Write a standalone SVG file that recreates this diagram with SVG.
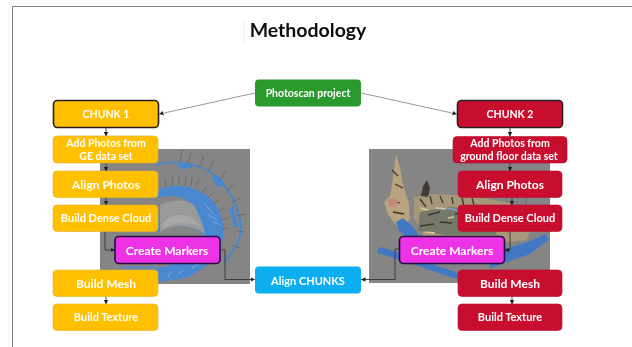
<svg xmlns="http://www.w3.org/2000/svg" width="632" height="347" viewBox="0 0 632 347">
<defs>
<filter id="soft" x="-5%" y="-5%" width="110%" height="110%"><feGaussianBlur stdDeviation="0.4"/></filter>
<filter id="softer" x="-5%" y="-5%" width="110%" height="110%"><feGaussianBlur stdDeviation="0.7"/></filter>
<marker id="arr" markerWidth="5" markerHeight="5" refX="4" refY="2.500" orient="auto" markerUnits="userSpaceOnUse"><path d="M0,0.300L4.500,2.500L0,4.700z" fill="#222"/></marker>
</defs>
<style>
text{font-family:Lato,"Open Sans","Liberation Sans",sans-serif;font-weight:700;fill:#fff;text-anchor:middle}
.o{fill:#ffc000;stroke:#e8b020;stroke-width:.6}
.r{fill:#c8102e;stroke:#b81030;stroke-width:.6}
.b{stroke:#2a1a20;stroke-width:1.600}
.c{fill:none;stroke:#333;stroke-width:.9}
.g{fill:none;stroke:#999;stroke-width:1}
.t{font-size:10.500px}
.u{font-size:11px}
.v{font-size:12px}
.w{font-size:11px}
.k{fill:none;stroke:#5b6066;stroke-width:.7}
.bl{fill:#4a88d0}
</style>
<rect width="632" height="347" fill="#fff"/>
<path d="M12.500,347V6.500H632" fill="none" stroke="#808080" stroke-width="1"/>
<path d="M243.800,20V43" stroke="#e4e4e4" stroke-width=".7"/>
<g id="scene-left" filter="url(#softer)">
<rect x="100" y="149" width="150" height="135" fill="#858585"/>
<path d="M158,190C175,182 196,186 210,198C222,210 226,226 222,242C216,258 204,270 186,278L158,282V268C178,264 198,252 205,236C192,224 176,224 158,232V214C170,210 180,206 192,204C182,196 170,194 158,198Z" class="bl"/>
<path d="M160,205C172,199 186,199 194,205C199,214 203,224 205,234C190,224 174,224 160,232Z" fill="#9a9a9a"/>
<path d="M163,222C176,212 190,212 200,226C188,222 174,222 163,228Z" fill="#a8a8a8"/>
<path d="M155,165C175,160 196,163 210,172C228,186 240,206 241,228C241,240 234,252 224,262" fill="none" stroke="#4286cc" stroke-width="1.600"/>
<path d="M176,166l9,-3.500l9,3.500l-9,3.500zM211,178l6,-3l8,8l-6,5zM229,208l4,-2l6,20l-5,1z" class="bl"/>
<path d="M182,150l-2,12M191,153l-3,10M204,156l-5,11M214,160l-5,10M226,171l-7,9M235,184l-8,6M241,198l-9,4M246,214l-10,2M245,232l-9,-1M240,248l-8,-3M165,178l1,9M172,177l1,9M179,176l0,9M186,176l-1,9M192,177l-1,9M199,179l-3,8M207,186l-5,7M214,192l-6,6M220,199l-6,5M225,208l-7,3M228,218l-7,2M229,228l-7,1" class="k"/>
<path d="M205,204l10,12M213,222l8,3M208,214l9,6M192,268l8,-5M178,274l6,-4M168,277l3,-6" stroke="#7fa6d6" stroke-width="1" fill="none"/>
<path d="M120,266h38v15h-24z" fill="#5f8ac0" opacity=".7"/>
</g>
<g id="scene-right" filter="url(#softer)">
<rect x="369" y="149" width="181" height="134" fill="#858585"/>
<path d="M396,154l4,14l3,16l6,20l1,14l-6,12l-9,-6l-7,-10l-4,-12l6,-6l3,-18z" fill="#b9a47f"/>
<path d="M414,197l20,-3l40,2l30,6l34,8l-2,10l-10,20l-60,6l-40,-6l-12,-22z" fill="#a8987a"/>
<path d="M420,212l30,-5l30,2l20,6l-4,20h-50l-28,-4z" fill="#74796a"/>
<path d="M392,170l6,6M395,184l8,4M390,200l10,3M393,212l11,2M420,199l6,8M430,196l2,8M440,196l3,7M452,197l1,7M462,198l2,8M472,198l2,7M428,215l12,-3M420,226l14,-2M440,222l12,1M455,214l14,-2M506,224l8,6M520,218l-2,10M528,216l-2,8" stroke="#3a352c" stroke-width="1.300" fill="none"/>
<path d="M420,208l8,2M436,208l10,1M448,218l6,-1M425,232l10,1M510,228l12,-2" stroke="#d8c8a0" stroke-width="1.400" fill="none"/>
<path d="M445,208l12,2M462,214l8,-2" stroke="#7fa6d6" stroke-width="1.400" fill="none"/>
<path d="M421,196l2,-10l4,-6l3,8l-2,9z" fill="#3f3a36"/>
<path d="M388,200l5,-3l5,4l-2,6l-6,-1z" fill="#c28a7a"/>
<path d="M396,222l7,-4l9,8l8,11l-8,4l-13,-10z" fill="#3f78c4"/>
<path d="M377,253l30,9l40,14l14,4v-6l-40,-14l-40,-13l-3,2z" fill="#3f78c4"/>
<path d="M490,268l40,-14l18,-14l-2,-6l-18,8l-20,6l-18,4z" fill="#3f78c4"/>
<path d="M478,270h30v13h-30z" fill="#3f78c4"/>
<path d="M491,147v6M526,197v8" class="k"/>
</g>
<g id="connectors" filter="url(#soft)">
<path class="g" d="M255,93L159.500,114" marker-end="url(#arr)"/>
<path class="g" d="M361,93L456.500,114" marker-end="url(#arr)"/>
<path class="c" d="M106,127V136" marker-end="url(#arr)"/>
<path class="c" d="M106,163V171" marker-end="url(#arr)"/>
<path class="c" d="M106,197V205" marker-end="url(#arr)"/>
<path class="c" d="M106,296V304" marker-end="url(#arr)"/>
<path class="c" d="M510,127V136" marker-end="url(#arr)"/>
<path class="c" d="M510,163V171" marker-end="url(#arr)"/>
<path class="c" d="M512,197V205" marker-end="url(#arr)"/>
<path class="c" d="M512,296V304" marker-end="url(#arr)"/>
<path class="c" d="M105,231V250H114.500" marker-end="url(#arr)"/>
<path class="c" d="M220,250H225V279.500H254.500" marker-end="url(#arr)"/>
<path class="c" d="M510,231V250H505" marker-end="url(#arr)"/>
<path class="c" d="M399,249H395V279.500H361.500" marker-end="url(#arr)"/>
</g>
<g filter="url(#soft)">
<g id="title"><text x="308" y="37" style="font-size:19.500px;fill:#111">Methodology</text></g>
<g id="photoscan"><rect x="255" y="79.500" width="106" height="27" rx="4" fill="#2a9a2e"/><text class="t" x="308" y="96.500">Photoscan project</text></g>
<g id="chunk1"><rect class="o b" x="53.500" y="100.500" width="105" height="27" rx="4"/><text class="t" x="106" y="118">CHUNK 1</text></g>
<g id="add-photos-1"><rect class="o" x="53" y="136" width="105" height="27" rx="4"/><text class="t" x="106" y="146.500">Add Photos from</text><text class="t" x="106" y="160">GE data set</text></g>
<g id="align-photos-1"><rect class="o" x="53" y="171" width="105" height="26.500" rx="4"/><text class="v" x="106" y="188.500">Align Photos</text></g>
<g id="dense-1"><rect class="o" x="53" y="205" width="105" height="26.500" rx="4"/><text class="u" x="106" y="222">Build Dense Cloud</text></g>
<g id="markers-1"><rect x="115" y="236.500" width="105" height="27" rx="4" fill="#ee33e6" stroke="#241040" stroke-width="1.600"/><text class="v" x="167" y="254.500">Create Markers</text></g>
<g id="mesh-1"><rect class="o" x="53" y="270" width="105" height="26.500" rx="4"/><text class="v" x="106" y="287.500">Build Mesh</text></g>
<g id="texture-1"><rect class="o" x="53" y="304" width="105" height="26.500" rx="4"/><text class="u" x="106" y="321">Build Texture</text></g>
<g id="align-chunks"><rect x="255" y="266.500" width="106" height="27" rx="4" fill="#0aaef0"/><text class="w" x="308" y="284.500">Align CHUNKS</text></g>
<g id="chunk2"><rect class="r b" x="457.500" y="100.500" width="105" height="27" rx="4"/><text class="t" x="510" y="118">CHUNK 2</text></g>
<g id="add-photos-2"><rect class="r" x="453" y="136.500" width="114" height="26.500" rx="4"/><text class="t" x="510" y="146.500">Add Photos from</text><text class="t" x="509" y="160">ground floor data set</text></g>
<g id="align-photos-2"><rect class="r" x="458" y="171" width="104" height="26.500" rx="4"/><text class="v" x="510" y="188.500">Align Photos</text></g>
<g id="dense-2"><rect class="r" x="458" y="205" width="104" height="26.500" rx="4"/><text class="u" x="510" y="222">Build Dense Cloud</text></g>
<g id="markers-2"><rect x="399.500" y="236.500" width="105" height="27" rx="4" fill="#ee33e6" stroke="#241040" stroke-width="1.600"/><text class="v" x="452" y="254.500">Create Markers</text></g>
<g id="mesh-2"><rect class="r" x="458" y="270" width="104" height="26.500" rx="4"/><text class="v" x="510" y="287.500">Build Mesh</text></g>
<g id="texture-2"><rect class="r" x="458" y="304" width="104" height="26.500" rx="4"/><text class="u" x="510" y="321">Build Texture</text></g>
</g>
</svg>
